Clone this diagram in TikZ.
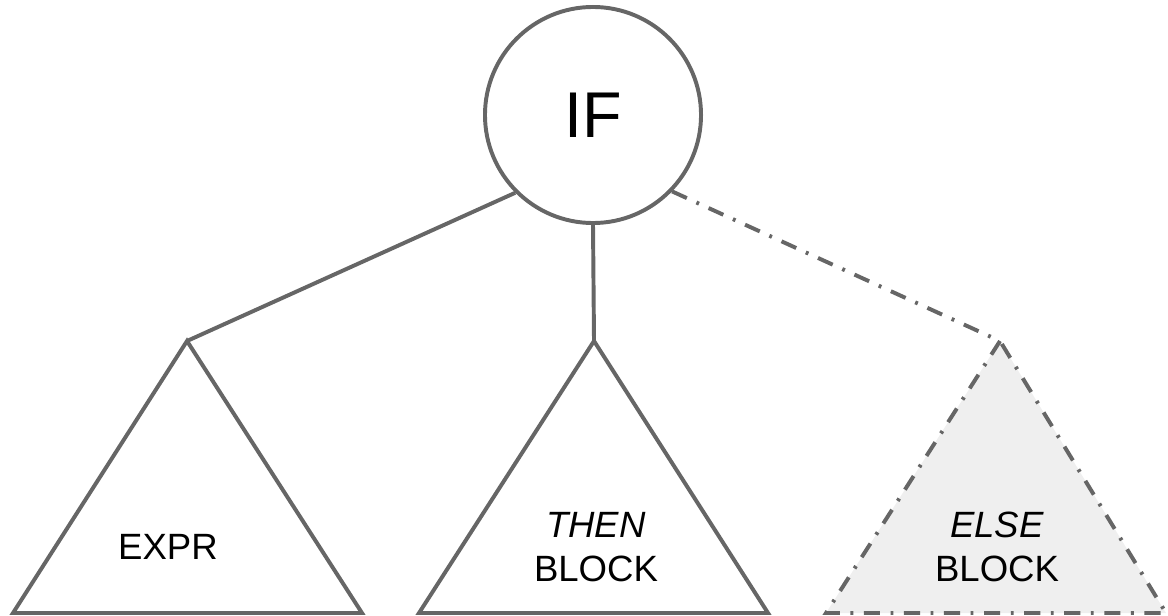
\documentclass[tikz,border=0pt]{standalone}
\usepackage{fontspec}
\setmainfont{Liberation Sans}
\definecolor{edge}{HTML}{666666}
\definecolor{optfill}{HTML}{EFEFEF}
\begin{document}
\begin{tikzpicture}[x=0.025cm,y=-0.025cm,
  link/.style={draw=edge,line width=2.8pt},
  optlink/.style={draw=edge,line width=2.8pt,dash pattern=on 11.5pt off 7.5pt on 2pt off 7.5pt},
  subtree/.style={draw=edge,line width=2.8pt,line join=miter},
  label/.style={font=\fontsize{26}{31}\selectfont,text=black,align=center,inner sep=0pt}]
  \useasboundingbox (0,0) rectangle (1168,616);

  % root
  \node[circle,draw=edge,line width=2.8pt,minimum size=5.4cm,inner sep=0pt,
        font=\fontsize{46}{50}\selectfont] (if) at (593,115) {IF};

  % apexes of the three subtrees
  \coordinate (expr) at (187,341);
  \coordinate (then) at (594,341);
  \coordinate (else) at (1000,341);

  % subtrees
  \draw[subtree] (expr) -- (13,613) -- (362,613) -- cycle;
  \draw[subtree] (then) -- (419,613) -- (768,613) -- cycle;
  \fill[optfill] (else) -- (826,613) -- (1166,613) -- cycle;
  \draw[optlink,line join=miter] (else) -- (826,613) -- (1166,613) -- cycle;

  % edges
  \draw[link] (if.225) -- (expr);
  \draw[link] (if.south) -- (then);
  \draw[optlink] (if.-44) -- (else);

  % labels
  \node[label] (exprlbl) at (168,547) {EXPR};
  \node[label] (thenlbl) at (596,547) {\textit{THEN}\\BLOCK};
  \node[label] (elselbl) at (997,547) {\textit{ELSE}\\BLOCK};
\end{tikzpicture}
\end{document}
